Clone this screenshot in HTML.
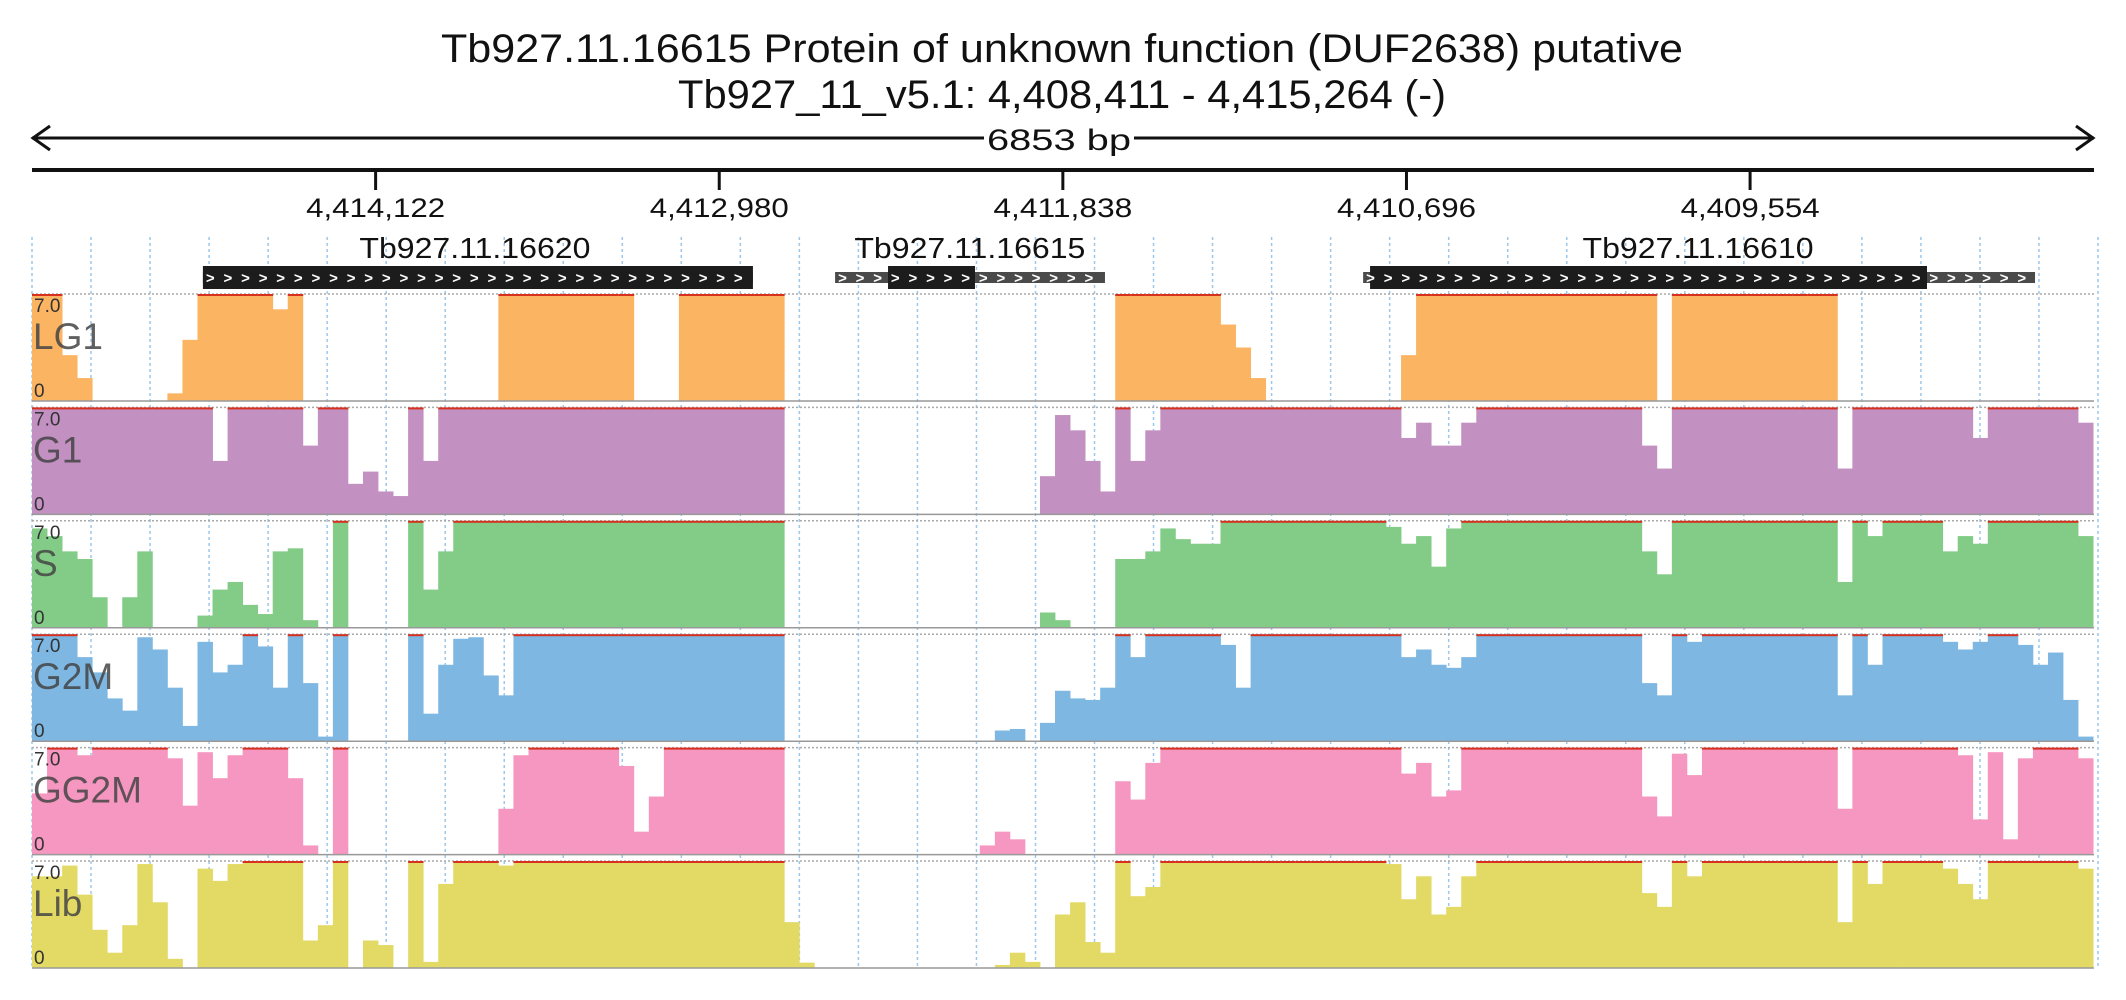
<!DOCTYPE html>
<html><head><meta charset="utf-8">
<style>
html,body{margin:0;padding:0;background:#fff;}
svg{display:block;font-family:"Liberation Sans",sans-serif;}
</style></head>
<body>
<svg id="chart" width="2126" height="1000" viewBox="0 0 2126 1000" xmlns="http://www.w3.org/2000/svg">
  <text x="441" y="62" font-size="40" textLength="1242" lengthAdjust="spacingAndGlyphs" fill="#111">Tb927.11.16615  Protein of unknown function (DUF2638)  putative</text>
  <text x="678" y="108" font-size="40" textLength="768" lengthAdjust="spacingAndGlyphs" fill="#111">Tb927_11_v5.1: 4,408,411 - 4,415,264 (-)</text>
  <g>
    <line x1="32" y1="138" x2="2094" y2="138" stroke="#111" stroke-width="3"/>
    <polyline points="50,126 33,138 50,150" fill="none" stroke="#111" stroke-width="3"/>
    <polyline points="2076,126 2093,138 2076,150" fill="none" stroke="#111" stroke-width="3"/>
    <rect x="984" y="122" width="150" height="32" fill="#fff"/>
    <text x="1059" y="150" font-size="30" text-anchor="middle" textLength="144" lengthAdjust="spacingAndGlyphs" fill="#111">6853 bp</text>
  </g>
  <line x1="32" y1="170" x2="2094" y2="170" stroke="#111" stroke-width="4"/>
  <g id="axis"></g>
  <g id="grid"></g>
  <g id="genes"></g>
  <g id="tracks"></g>
</svg>
<script>
const NS = "http://www.w3.org/2000/svg";
const regionStart = 4415264;
const regionEnd = 4408411;
const tickValues = [4414122, 4412980, 4411838, 4410696, 4409554];
const tickLabels = ["4,414,122", "4,412,980", "4,411,838", "4,410,696", "4,409,554"];
const binSizeBp = 50;
const yMax = 7.0;
const trackNames = ["LG1", "G1", "S", "G2M", "GG2M", "Lib"];
const trackColors = ["#fbb462", "#c390c2", "#83cc87", "#7db7e2", "#f597c0", "#e3da66"];

function rep(v, n) { return Array(n).fill(v); }
const lg1Values = [7,7,3,1.5,0, 0,0,0,0,0.5, 4,7,7,7,7,7,6,7, ...rep(0,13), 7,7,7,7,7, 7,7,7,7, 0,0,0, ...rep(7,7), ...rep(0,22), ...rep(7,7), 5,3.5,1.5, ...rep(0,9), 3, ...rep(7,16), 0, ...rep(7,11), ...rep(0,17)];
const g1Values = [...rep(7,12), 3.5, ...rep(7,5), 4.5, 7,7, 2,2.8,1.5,1.2, 7,3.5, ...rep(7,23), ...rep(0,17), 2.5,6.5,5.5,3.5,1.5,7,3.5,5.5, ...rep(7,16), 5,6,4.5,4.5,6, ...rep(7,11), 4.5,3, ...rep(7,11), 3, ...rep(7,8), 5, ...rep(7,6), 6];
const sValues = [6.5,6,5,4.5,2,0,2,5,0,0,0,0.8,2.5,3,1.5,0.9,5,5.2,0.5,0,7,0,0,0,0,7,2.5,5, ...rep(7,22), ...rep(0,17), 1,0.5, 0,0,0, 4.5,4.5,5,6.5,5.8,5.5,5.5, ...rep(7,11), 6.6,5.5,6,4,6.5, ...rep(7,12), 5,3.5, ...rep(7,11), 3, 7,6, ...rep(7,4), 5,6,5.5, ...rep(7,6), 6];
const g2mValues = [7,7,7,5.5,4.5,2.8,2,6.8,6,3.5,1,6.5,4.5,5,7,6.2,3.5,7,3.8,0.3,7,0,0,0,0,7,1.8,5,6.7,6.8,4.3,3, ...rep(7,18), ...rep(0,14), 0.7,0.8,0,1.2,3.3,2.8,2.7,3.5,7,5.5, ...rep(7,5), 6.3,3.5, ...rep(7,10), 5.5,6,5,4.8,5.5, ...rep(7,11), 3.8,3, 7,6.5, ...rep(7,9), 3,7,5, ...rep(7,4), 6.5,6,6.5,7,7,6.3,5,5.8,2.7,0.3];
const gg2mValues = [4,7,7,6.5,7,7,7,7,7,6.3,3.2,6.7,5,6.5,7,7,7,5,0.6,0,7, ...rep(0,10), 3,6.5,7, ...rep(7,5), 5.8,1.5,3.8, ...rep(7,8), ...rep(0,13), 0.6,1.5,1, ...rep(0,6), 4.8,3.6,6, ...rep(7,16), 5.3,6,3.8,4.2, ...rep(7,12), 3.8,2.5,6.6,5.2, ...rep(7,9), 3, ...rep(7,7), 6.5,2.3,6.7,1,6.3, 7,7,7, 6.3];
const libValues = [6,6,6.7,4.8,2.5,1,2.8,6.8,4.3,0.6,0,6.5,5.7,6.8,7,7,7,7,1.8,2.8,7,0,1.8,1.5,0,7,0.4,5.5,7,7,7,6.7, ...rep(7,18), 3,0.35, ...rep(0,12), 0.2,1,0.4,0,3.5,4.3,1.7,1,7,4.7,5.3, ...rep(7,15), 6.8,4.5,6,3.5,4,6, ...rep(7,11), 4.9,4,7,6, ...rep(7,9), 3,7,5.5, ...rep(7,4), 6.5,5.5,4.5, ...rep(7,6), 6.5];
const trackValues = [lg1Values, g1Values, sValues, g2mValues, gg2mValues, libValues];

const geneNames = ["Tb927.11.16620", "Tb927.11.16615", "Tb927.11.16610"];
const geneUtrStart = [4414696, 4412595, 4410840];
const geneUtrEnd = [4412868, 4411698, 4408607];
const geneCdsStart = [4414696, 4412419, 4410817];
const geneCdsEnd = [4412868, 4412130, 4408966];
const geneLabelAt = [4413792, 4412147, 4409727];

const X0 = 32, X1 = 2094;
function xScale(bp) { return X0 + (regionStart - bp) / (regionStart - regionEnd) * (X1 - X0); }
const trackTop0 = 294, trackStep = 113.4, trackH = 107;

const svg = document.getElementById('chart');
function mk(tag, attrs, parent) {
  const e = document.createElementNS(NS, tag);
  for (const k in attrs) e.setAttribute(k, attrs[k]);
  parent.appendChild(e);
  return e;
}

// axis ticks
const axisG = document.getElementById('axis');
tickValues.forEach((v, i) => {
  const x = xScale(v);
  const t = mk('line', {x1: x, y1: 170, x2: x, y2: 190, stroke: '#111', 'stroke-width': 3}, axisG);
  
  
  const lb = mk('text', {x: x, y: 217, 'font-size': 27, 'text-anchor': 'middle', fill: '#111', textLength: 139, lengthAdjust: 'spacingAndGlyphs'}, axisG);
  lb.textContent = tickLabels[i];
  
  
});

// grid
const gridG = document.getElementById('grid');
for (let i = 0; i <= 35; i++) {
  const x = X0 + i * (X1 - X0 + 4) / 35;
  const g = mk('line', {x1: x, y1: 237, x2: x, y2: 968, stroke: '#9cc7ea', 'stroke-width': 1.5, 'stroke-dasharray': '3,3'}, gridG);
  
  
}

// genes
const genesG = document.getElementById('genes');
function chevrons(x1, x2, y, parent) {
  for (let x = x1 + 3; x < x2 - 8; x += 17.6) {
    const c = mk('text', {x: x, y: y, 'font-size': 15, fill: '#fff', 'font-weight': 'bold'}, parent);
    c.textContent = '>';
  }
}
geneNames.forEach((name, i) => {
  const g = mk('g', {}, genesG);
  
  
  const ux1 = xScale(geneUtrStart[i]), ux2 = xScale(geneUtrEnd[i]);
  const cx1 = xScale(geneCdsStart[i]), cx2 = xScale(geneCdsEnd[i]);
  mk('rect', {x: ux1, y: 272, width: ux2 - ux1, height: 11, fill: '#4a4a4a'}, g);
  mk('rect', {x: cx1, y: 266, width: cx2 - cx1, height: 23, fill: '#1c1c1c'}, g);
  chevrons(ux1, ux2, 283, g);
  const lb = mk('text', {x: xScale(geneLabelAt[i]), y: 258, 'font-size': 29, 'text-anchor': 'middle', fill: '#111', textLength: 231, lengthAdjust: 'spacingAndGlyphs'}, g);
  lb.textContent = name;
  
  
});

// tracks
const tracksG = document.getElementById('tracks');
trackNames.forEach((name, ti) => {
  const top = trackTop0 + ti * trackStep;
  const bottom = top + trackH;
  const g = mk('g', {}, tracksG);
  
  
  mk('line', {x1: X0, y1: top, x2: X1, y2: top, stroke: '#aaa', 'stroke-width': 1.5, 'stroke-dasharray': '2,2'}, g);
  const vals = trackValues[ti];
  vals.forEach((v, k) => {
    if (v <= 0) return;
    const xa = xScale(regionStart - k * binSizeBp);
    const xb = Math.min(X1, xScale(regionStart - (k + 1) * binSizeBp));
    const h = Math.min(v, yMax) / yMax * trackH;
    const r = mk('rect', {x: xa, y: bottom - h, width: xb - xa + 0.4, height: h, fill: trackColors[ti]}, g);
    
    
    if (v >= yMax) {
      const s = mk('rect', {x: xa, y: top, width: xb - xa + 0.4, height: 2, fill: '#d7301f'}, g);
      
      
    }
  });
  mk('line', {x1: X0, y1: bottom, x2: X1, y2: bottom, stroke: '#999', 'stroke-width': 1.5}, g);
  const mx = mk('text', {x: 34, y: top + 18, 'font-size': 19, fill: '#333'}, g);
  mx.textContent = '7.0';
  
  
  const zr = mk('text', {x: 34, y: top + 103, 'font-size': 19, fill: '#333'}, g);
  zr.textContent = '0';
  
  
  const nm = mk('text', {x: 33, y: top + 55, 'font-size': 37, fill: '#444', 'fill-opacity': 0.85}, g);
  nm.textContent = name;
  
  
});
</script>
</body></html>
